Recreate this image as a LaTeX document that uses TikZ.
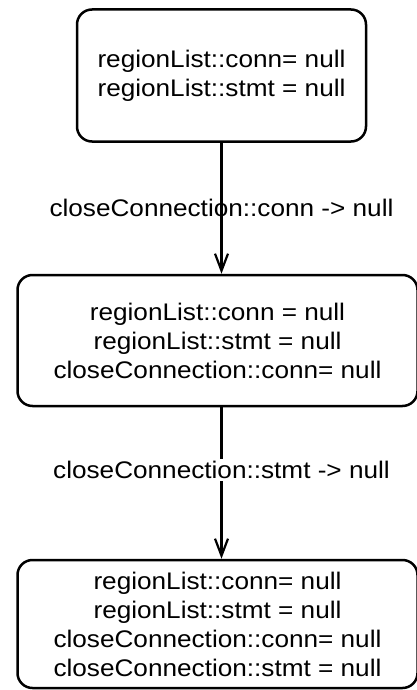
\documentclass[tikz,border=0pt]{standalone}
\usepackage{fontspec}
\setmainfont[FakeStretch=1.09]{Liberation Sans}
\usetikzlibrary{arrows.meta}
\begin{document}
\begin{tikzpicture}[x=1pt,y=-1pt,
  statebox/.style={draw, line width=2.5pt, rounded corners=15pt, align=center,
    inner sep=0pt, font=\fontsize{24}{29}\selectfont},
  flow/.style={line width=2.2pt, -{Straight Barb[length=17pt,width=13pt,line width=2.2pt]}},
  steplabel/.style={font=\fontsize{24}{29}\selectfont, inner sep=2pt}]
\useasboundingbox (0,0) rectangle (417,690);

\node[statebox, minimum width=289pt, minimum height=132pt] (s1) at (221.5,75.5)
  {regionList::conn= null\\regionList::stmt = null};
\node[statebox, minimum width=400pt, minimum height=131pt] (s2) at (217.5,340.5)
  {regionList::conn = null\\regionList::stmt = null\\closeConnection::conn= null};
\node[statebox, minimum width=400pt, minimum height=128pt] (s3) at (217.5,624)
  {regionList::conn= null\\regionList::stmt = null\\closeConnection::conn= null\\closeConnection::stmt = null};

\draw[flow] (s1) -- (s1 |- s2.north)
  node[steplabel, pos=0.5] (t1) {closeConnection::conn -> null};
\draw[flow] (s1 |- s2.south) -- (s1 |- s3.north)
  node[steplabel, fill=white, pos=0.415, inner xsep=0pt] (t2) {closeConnection::stmt -> null};
\end{tikzpicture}
\end{document}
